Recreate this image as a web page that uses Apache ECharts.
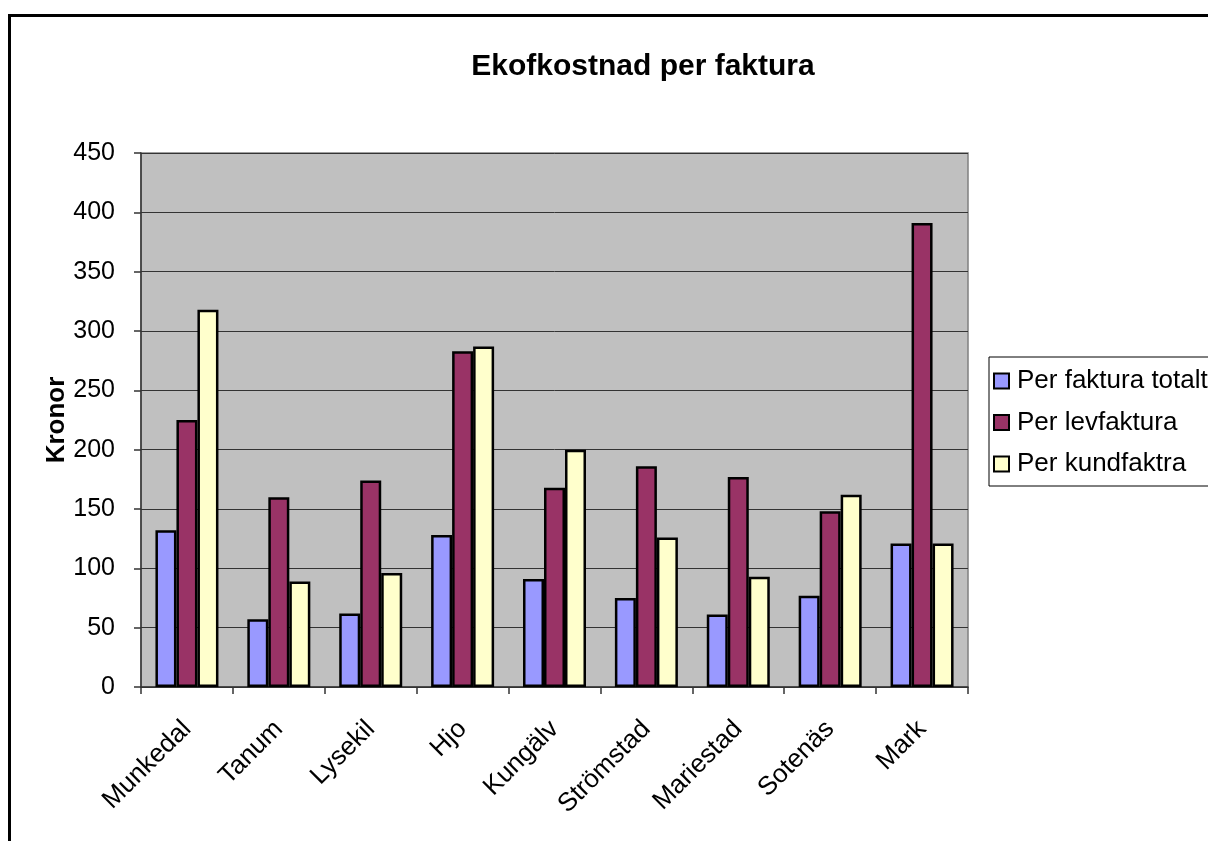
<!DOCTYPE html>
<html>
<head>
<meta charset="utf-8">
<script src="https://cdn.jsdelivr.net/npm/echarts@6/dist/echarts.min.js"></script>
<style>html,body{margin:0;padding:0;background:#fff}#c{width:1208px;height:841px}</style>
</head>
<body>
<div id="c"></div>
<script>
const categories = ['Munkedal','Tanum','Lysekil','Hjo','Kungälv','Strömstad','Mariestad','Sotenäs','Mark'];
const perFakturaTotalt = [132, 57, 62, 128, 91, 75, 61, 77, 121];
const perLevfaktura = [225, 160, 174, 283, 168, 186, 177, 148, 391];
const perKundfaktra = [318, 89, 96, 287, 200, 126, 93, 162, 121];
const seriesNames = ['Per faktura totalt','Per levfaktura','Per kundfaktra'];
const yTicks = [0, 50, 100, 150, 200, 250, 300, 350, 400, 450];

const colors = ['#9999FF','#993366','#FFFFCC'];
const font = 'Liberation Sans, Arial, sans-serif';
const chart = echarts.init(document.getElementById('c'), null, {renderer:'canvas'});
const values = [perFakturaTotalt, perLevfaktura, perKundfaktra];
chart.setOption({
  animation:false,
  backgroundColor:'#fff',
  graphic:[{type:'rect', shape:{x:9.5, y:15.5, width:1300, height:900}, style:{fill:'none', stroke:'#000', lineWidth:3}, silent:true}],
  title:{text:'Ekofkostnad per faktura', left:638, top:47, textAlign:'center',
    textStyle:{fontFamily:font, fontSize:30, fontWeight:'bold', color:'#000'}},
  legend:{orient:'vertical', left:989, top:357,
    backgroundColor:'#fff', borderColor:'#000', borderWidth:1,
    padding:[11,40,9,4], itemGap:15.5, itemWidth:15, itemHeight:15, icon:'rect',
    itemStyle:{borderColor:'#000', borderWidth:2},
    textStyle:{fontFamily:font, fontSize:26, color:'#000', padding:[0,0,0,3]},
    data:seriesNames},
  grid:{left:141, top:153, width:827, height:534, show:true, backgroundColor:'#C0C0C0', borderColor:'#808080', borderWidth:1.5},
  xAxis:{type:'category', data:categories,
    axisLine:{lineStyle:{color:'#333', width:1.5}},
    axisTick:{show:true, length:7, lineStyle:{color:'#333', width:1.5}},
    axisLabel:{rotate:45, margin:38, fontFamily:font, fontSize:26, color:'#000'}},
  yAxis:{type:'value', min:0, max:450, interval:50, name:'Kronor', nameLocation:'middle', nameGap:71,
    nameMoveOverlap:false,
    nameTextStyle:{fontFamily:font, fontSize:26, fontWeight:'bold', color:'#000'},
    axisLine:{show:true, lineStyle:{color:'#333', width:1.5}},
    axisTick:{show:true, length:7, lineStyle:{color:'#333', width:1.5}},
    splitLine:{lineStyle:{color:'#333', width:1}},
    axisLabel:{margin:26, fontFamily:font, fontSize:25, color:'#000',
      formatter: v => yTicks.includes(v) ? String(v) : ''}},
  series: seriesNames.map((n,i)=>({
    name:n, type:'bar', data:values[i], barWidth:21, barGap:'0%',
    itemStyle:{color:colors[i], borderColor:'#000', borderWidth:2.5}
  }))
});
</script>
</body>
</html>
